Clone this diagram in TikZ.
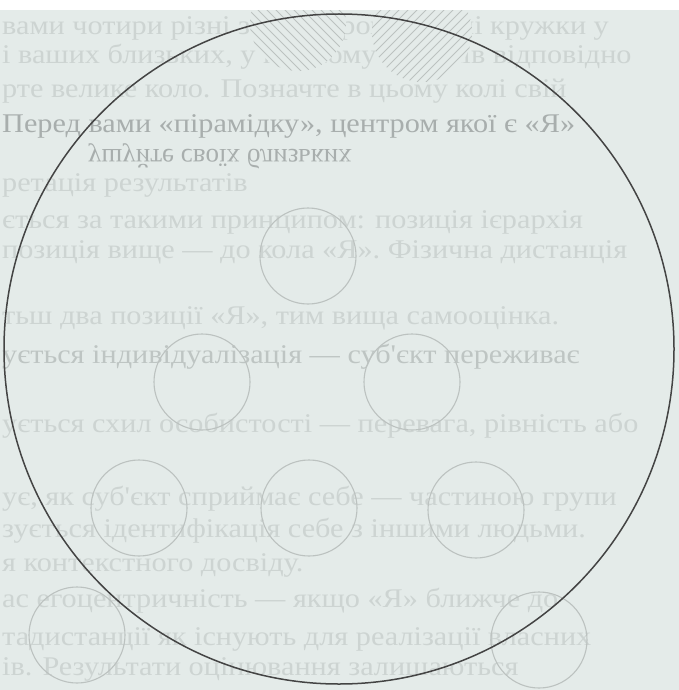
\documentclass[tikz,border=0pt]{standalone}
\usepackage{fontspec}
\setmainfont{Liberation Serif}
\newfontfamily\pagefont[FakeStretch=1.12]{Liberation Serif}
\usepackage{graphicx}
\definecolor{paper}{RGB}{228,235,233}
\definecolor{ringgray}{RGB}{188,194,192}
\definecolor{inkfaint}{RGB}{205,212,210}
\definecolor{inkmid}{RGB}{168,174,173}
\definecolor{rimgray}{RGB}{68,68,68}
\tikzset{
  ring/.style={circle, draw=ringgray, line width=1.1pt, minimum size=96pt, inner sep=0pt},
  hatchring/.style={circle, fill=paper, minimum size=96pt, inner sep=0pt},
  bigring/.style={circle, draw=rimgray, line width=1.5pt, minimum size=670pt, inner sep=0pt},
  bgtext/.style={anchor=base west, inner sep=0pt, text=inkfaint, font=\pagefont\fontsize{27}{32}\selectfont},
  hatch/.style={draw=ringgray, line width=1pt},
}
\begin{document}
\begin{tikzpicture}[x=1pt,y=-1pt]
    \useasboundingbox (0,0) rectangle (679,690);
    \clip (0,0) rectangle (679,690);
    \fill[paper] (0,0) rectangle (679,690);

    % faint text of the page
    \foreach \y/\t [count=\i] in {35/{вами чотири різні за розміром окремі кружки у},
        64/{і ваших близьких, у кожному з рядків відповідно},
        98/{рте велике коло. Позначте в цьому колі свій},
        191/{ретація результатів},
        228/{ється за такими принципом: позиція ієрархія},
        258/{позиція вище — до кола «Я». Фізична дистанція},
        324/{тьш два позиції «Я», тим вища самооцінка.},
        432/{ується схил особистості — перевага, рівність або},
        505/{ує, як суб'єкт сприймає себе — частиною групи},
        537/{зується ідентифікація себе з іншими людьми.},
        571/{я контекстного досвіду.},
        607/{ас егоцентричність — якщо «Я» ближче до},
        645/{тадистанції як існують для реалізації власних},
        675/{ів. Результати оцінювання залишаються}}
        \node[bgtext] (t\i) at (2,\y) {\t};
    \node[bgtext, text=inkmid] (tdark) at (2,132) {Перед вами «пірамідку», центром якої є «Я»};
    \node[bgtext, text=inkfaint!60!inkmid] (tind) at (2,363) {ується індивідуалізація — суб'єкт переживає};
    \node[bgtext, text=inkmid, anchor=west, font=\fontsize{27}{32}\selectfont] (tflip) at (88,156) {\scalebox{1}[-1]{ушуйте своїх близьких}};

    % hatched circles at the top
    \node[hatchring] (h1) at (298,23) {};
    \node[hatchring, minimum size=100pt] (h2) at (422,32) {};
    \begin{scope}
        \clip (h1.center) circle[radius=48pt];
        \foreach \k in {-144,-135,...,144}
            \draw[hatch] ([xshift=\k pt-70pt, yshift=70pt]h1.center) -- ([xshift=\k pt+70pt, yshift=-70pt]h1.center);
    \end{scope}
    \begin{scope}
        \clip (h2.center) circle[radius=50pt];
        \foreach \k in {-144,-135,...,144}
            \draw[hatch] ([xshift=\k pt-70pt, yshift=-70pt]h2.center) -- ([xshift=\k pt+70pt, yshift=70pt]h2.center);
    \end{scope}
    \fill[white] (0,0) rectangle (679,10);

    % small circles
    \node[ring] (r1) at (308,256) {};
    \node[ring] (r2) at (202,382) {};
    \node[ring] (r3) at (412,382) {};
    \node[ring] (r4) at (139,508) {};
    \node[ring] (r5) at (309,508) {};
    \node[ring] (r6) at (476,510) {};
    \node[ring] (r7) at (77,635) {};
    \node[ring] (r8) at (539,640) {};

    \node[bigring] (big) at (339,349) {};
\end{tikzpicture}
\end{document}
